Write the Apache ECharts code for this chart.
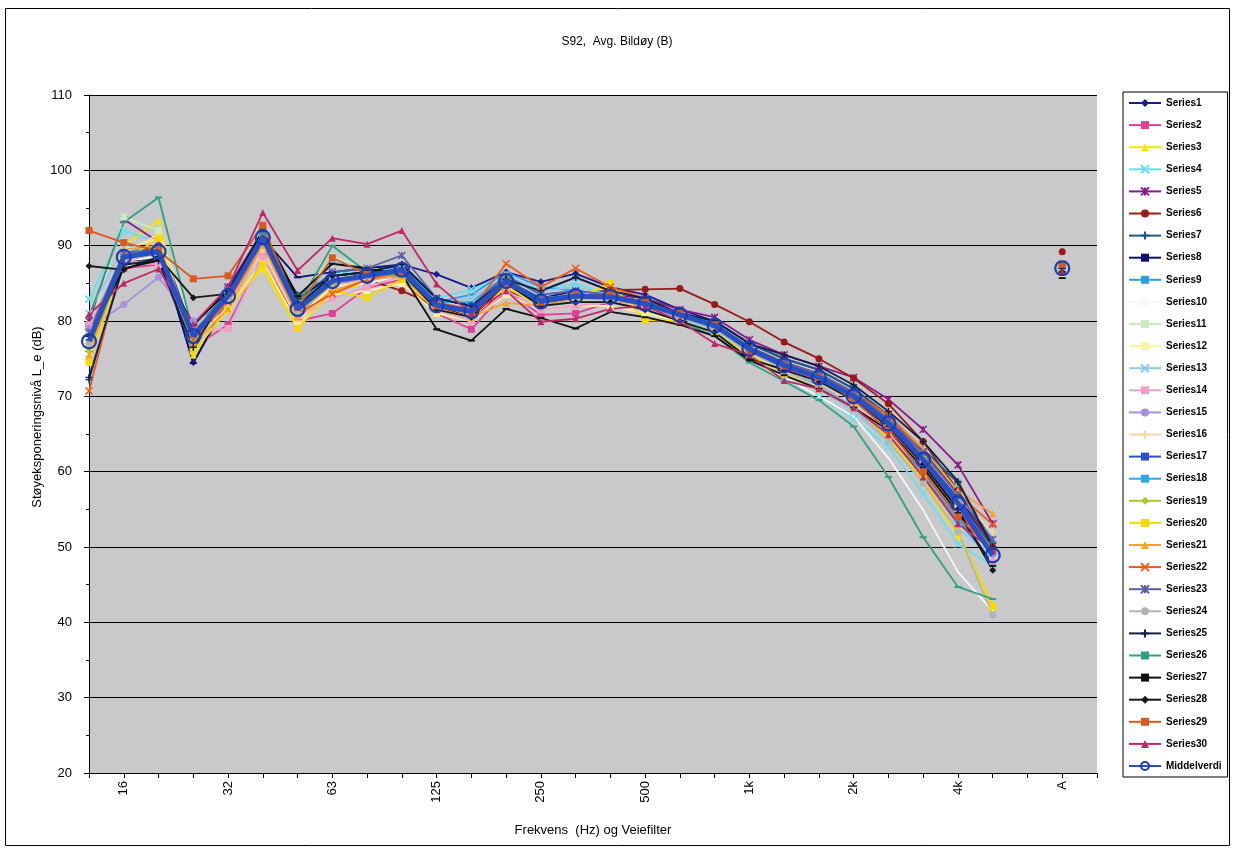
<!DOCTYPE html>
<html>
<head>
<meta charset="utf-8">
<script src="https://cdn.jsdelivr.net/npm/echarts@6/dist/echarts.min.js"></script>
<style>
html,body{margin:0;padding:0;background:#fff;}
#chart{width:1234px;height:850px;}
</style>
</head>
<body>
<div id="chart"></div>
<script>
const titleText = 'S92,  Avg. Bildøy (B)';
const yAxisName = 'Støyeksponeringsnivå L_e (dB)';
const xAxisName = 'Frekvens  (Hz) og Veiefilter';
const categories = ['12.5','16','20','25','32','40','50','63','80','100','125','160','200','250','315','400','500','630','800','1k','1.25k','1.6k','2k','2.5k','3.15k','4k','5k','6.3k','A',''];
const seriesNames = ['Series1','Series2','Series3','Series4','Series5','Series6','Series7','Series8','Series9','Series10','Series11','Series12','Series13','Series14','Series15','Series16','Series17','Series18','Series19','Series20','Series21','Series22','Series23','Series24','Series25','Series26','Series27','Series28','Series29','Series30'];

const s1  = [78.5,89.0,89.8,74.5,82.5,90.5,82.8,86.0,86.5,87.5,86.2,84.4,86.5,85.2,86.3,84.5,83.5,81.5,80.0,77.0,75.0,73.5,71.0,67.5,62.8,57.0,49.5,null,86.5,null];
const s2  = [79.0,87.0,87.5,76.5,79.5,88.5,80.0,81.0,84.4,85.5,81.0,78.9,84.0,80.8,81.0,82.5,82.0,80.5,79.0,76.0,73.8,72.0,69.5,65.8,61.0,55.0,48.5,null,86.8,null];
const s3  = [74.5,90.0,93.3,75.5,82.0,87.0,79.0,84.0,85.0,86.0,81.5,80.5,84.5,82.0,82.8,83.0,82.0,80.5,79.0,76.0,73.5,71.5,68.5,64.5,58.5,51.5,42.0,null,86.0,null];
const s4  = [82.9,92.0,90.5,78.5,84.0,91.5,83.0,86.5,86.5,86.5,83.0,84.2,86.0,84.0,85.0,83.5,82.5,80.5,78.5,75.5,72.5,70.0,67.0,63.3,57.1,50.4,47.5,null,87.0,null];
const s5  = [80.0,93.5,90.5,79.0,84.5,92.0,82.5,86.0,86.5,87.0,83.0,82.0,85.5,83.0,83.5,83.5,83.0,81.5,80.5,77.5,75.5,74.0,72.5,69.6,65.6,60.9,53.1,null,87.5,null];
const s6  = [79.5,88.0,88.0,77.5,83.0,90.0,81.0,85.0,85.5,84.0,82.0,80.5,84.0,82.5,83.5,84.1,84.2,84.3,82.2,79.9,77.2,75.0,72.4,69.0,64.0,57.5,50.0,null,89.2,null];
const s7  = [72.2,87.5,88.5,76.0,84.5,91.0,83.5,86.0,86.5,87.5,83.0,82.0,85.5,84.0,85.8,84.0,83.0,81.0,80.0,77.0,75.0,73.5,71.0,67.5,63.0,58.5,50.5,null,86.5,null];
const s8  = [76.0,88.0,90.0,74.4,83.0,91.0,85.8,86.5,87.0,87.5,83.0,82.0,85.0,83.0,84.0,83.5,82.5,81.0,79.5,76.5,74.5,73.0,70.5,67.0,62.5,56.5,49.0,null,87.0,null];
const s9  = [78.0,89.0,90.0,77.0,83.5,91.5,82.0,86.0,86.5,87.0,82.5,83.5,86.5,84.5,84.0,83.0,82.0,80.5,79.0,76.0,73.5,71.5,68.5,64.5,59.5,53.5,48.0,null,87.0,null];
const s10 = [77.0,88.0,88.5,77.5,82.5,90.0,80.5,84.5,85.0,86.0,81.5,80.5,84.5,82.0,82.5,82.5,81.5,80.0,78.5,75.5,72.5,70.0,67.3,61.8,54.9,46.7,41.5,null,86.0,null];
const s11 = [78.5,93.8,92.0,79.0,84.0,91.5,82.5,88.5,87.0,86.5,82.5,81.5,86.0,83.0,83.5,83.0,82.0,80.5,79.0,76.0,74.0,72.5,70.0,66.5,61.5,55.5,49.0,null,87.0,null];
const s12 = [76.5,89.5,91.0,76.0,81.5,88.0,79.5,83.5,84.0,85.0,81.0,80.0,83.5,81.5,82.0,82.0,81.0,80.0,78.5,75.5,73.5,72.0,69.5,65.5,60.5,54.5,48.5,null,86.0,null];
const s13 = [81.0,90.0,89.5,78.0,83.5,91.0,82.0,88.0,86.5,87.0,82.5,83.0,86.0,84.0,84.5,83.5,82.5,80.5,79.0,75.5,73.0,71.0,68.0,64.0,58.5,52.5,48.5,null,87.0,null];
const s14 = [79.5,88.0,87.5,78.5,79.0,88.5,80.5,83.0,84.5,86.0,81.5,80.0,84.0,81.5,82.0,82.5,82.0,80.5,79.0,76.0,73.5,72.0,69.5,65.5,60.5,54.5,48.0,null,86.5,null];
const s15 = [79.0,82.2,85.8,80.0,82.5,90.0,81.5,85.0,85.5,86.0,82.0,81.0,84.5,82.0,83.0,83.0,82.0,80.5,79.0,76.0,74.0,72.5,70.0,66.5,61.5,56.0,49.0,null,87.0,null];
const s16 = [77.0,89.0,91.5,77.0,82.0,89.5,80.0,84.5,85.5,86.5,82.0,81.0,85.0,82.5,83.5,83.5,82.5,81.0,79.5,76.5,74.5,73.0,70.5,67.0,62.5,56.5,52.0,null,87.0,null];
const s17 = [77.5,88.5,89.0,77.5,83.5,91.5,82.0,85.5,86.0,87.0,82.0,81.5,85.5,83.0,83.5,83.5,82.5,81.0,79.5,76.5,74.5,73.0,70.5,67.0,62.0,56.5,49.5,null,87.0,null];
const s18 = [78.0,89.0,90.0,78.5,84.0,92.0,82.5,86.0,86.5,87.5,82.5,82.5,86.0,83.5,84.0,83.5,82.5,81.0,79.5,76.0,73.5,71.5,68.5,64.5,60.0,54.0,48.0,null,87.0,null];
const s19 = [76.0,88.0,89.0,77.5,83.0,90.5,81.0,85.0,86.0,86.5,82.0,81.0,85.9,82.5,83.0,83.0,82.0,80.5,79.0,76.0,74.0,72.5,70.0,66.5,62.0,56.0,49.5,null,87.0,null];
const s20 = [74.7,88.0,91.0,76.0,81.5,87.5,79.0,84.0,83.1,85.5,81.5,80.5,84.5,82.0,83.0,85.0,80.1,80.0,78.5,75.5,73.0,71.0,68.5,64.5,59.0,52.0,42.2,null,86.5,null];
const s21 = [75.5,89.5,90.0,77.0,81.6,90.0,80.5,84.0,85.5,86.0,81.5,80.5,82.4,82.0,83.0,83.5,82.5,81.0,79.5,76.5,74.5,73.0,70.5,67.5,63.0,57.5,54.4,null,87.0,null];
const s22 = [70.7,88.5,89.5,77.5,82.5,90.5,81.0,83.6,85.5,86.5,82.5,81.5,87.6,84.5,87.0,84.5,83.0,81.0,79.5,76.5,74.5,73.0,70.5,67.5,62.5,57.0,53.0,null,87.5,null];
const s23 = [78.5,89.0,89.5,78.5,84.0,91.5,82.5,86.5,87.0,88.7,83.0,82.0,86.0,83.5,84.0,83.5,82.5,81.0,79.5,76.5,74.5,73.0,70.5,67.0,62.5,57.0,51.0,null,87.0,null];
const s24 = [77.0,88.0,89.0,79.0,83.0,90.5,81.0,85.5,86.0,86.5,82.0,81.0,85.0,82.5,83.0,83.0,82.0,80.5,79.0,76.0,73.5,71.5,68.5,64.0,58.5,52.0,41.0,null,86.5,null];
const s25 = [72.5,87.5,88.0,76.5,84.0,91.0,83.0,86.0,86.5,87.5,83.0,82.0,85.5,84.0,85.8,84.0,83.0,81.0,80.0,77.0,75.5,74.0,71.5,68.0,64.0,58.7,50.0,null,87.0,null];
const s26 = [80.5,93.1,96.4,78.5,83.5,91.5,82.0,90.0,86.5,86.0,82.0,81.0,85.0,82.0,82.5,82.5,81.5,80.0,78.0,74.5,72.0,69.5,66.0,59.3,51.3,44.7,43.1,null,86.5,null];
const s27 = [78.0,87.0,88.0,79.5,84.0,92.0,83.3,87.6,87.0,86.2,78.9,77.4,81.6,80.4,79.0,81.2,80.5,79.5,78.0,74.8,72.8,71.0,68.5,65.5,60.5,54.5,47.5,null,85.7,null];
const s28 = [87.3,86.8,88.5,83.1,83.6,90.5,82.0,86.0,86.5,86.5,81.5,80.5,85.0,82.0,82.5,82.5,81.5,80.0,78.5,75.0,73.5,72.0,69.5,66.0,61.0,55.0,46.9,null,86.5,null];
const s29 = [92.0,90.4,89.3,85.6,86.0,92.7,81.8,88.4,86.2,86.5,82.0,81.0,85.0,82.5,83.5,83.5,82.5,81.0,79.5,76.0,74.0,72.5,69.5,65.5,60.0,54.0,49.5,null,87.5,null];
const s30 = [80.9,85.0,86.9,79.6,84.5,94.4,86.7,91.0,90.2,92.0,84.9,81.0,84.0,79.9,80.3,81.6,82.0,80.0,77.0,75.5,72.1,71.0,68.5,64.9,59.3,53.1,49.6,null,86.5,null];
const middelverdi = [77.3,88.5,89.2,78.0,83.3,91.1,81.6,85.3,86.0,86.8,82.1,81.3,85.3,82.6,83.3,83.2,82.3,80.8,79.4,76.3,74.1,72.5,70.0,66.4,61.6,55.8,48.9,null,87.0,null];

const allData = [s1,s2,s3,s4,s5,s6,s7,s8,s9,s10,s11,s12,s13,s14,s15,s16,s17,s18,s19,s20,s21,s22,s23,s24,s25,s26,s27,s28,s29,s30];

const colors = ['#1a1a8c','#e0409a','#f5e600','#66e0f0','#8a1a8a','#9a1a1a','#1a5a8a','#101070','#2aa0e8','#f4f8fa',
  '#c8ecc0','#f8f4a0','#8cc8f0','#f0a0c8','#a890e0','#f8d8a8','#2a50c8','#30a8e0','#a8c830','#f8d800',
  '#f8a030','#f05a18','#5a60a8','#b4b4b4','#102048','#30a080','#101010','#181818','#d85a20','#c0286a'];

const X = 'path://M0,0L10,10M10,0L0,10';
const AST = 'path://M0,0L10,10M10,0L0,10M5,0L5,10';
const PLUS = 'path://M5,0L5,10M0,5L10,5';
const DASH = 'dash';
const symbols = ['diamond','rect','triangle',X,AST,'circle',PLUS,DASH,DASH,'emptyCircle',
  'rect','rect',X,'rect','circle',PLUS,DASH,DASH,'diamond','rect',
  'triangle',X,AST,'circle',PLUS,DASH,DASH,'diamond','rect','triangle'];

const series = allData.map((d, i) => {
  const sym = symbols[i];
  const isPath = sym.startsWith('path');
  const isDash = sym === 'dash';
  const isNone = sym === 'emptyCircle';
  return {
    name: seriesNames[i],
    type: 'line',
    data: d,
    symbol: isDash ? 'rect' : (isNone ? 'circle' : sym),
    symbolSize: isDash ? [7, 2] : (isNone ? 2 : 7),
    connectNulls: false,
    lineStyle: {width: 1.8, color: colors[i]},
    itemStyle: {color: colors[i], borderColor: colors[i], borderWidth: isPath ? 1.5 : 0},
    emphasis: {disabled: true},
    z: 2
  };
});
series.push({
  name: 'Middelverdi',
  type: 'line',
  data: middelverdi,
  symbol: 'circle',
  symbolSize: 14,
  connectNulls: false,
  lineStyle: {width: 5, color: '#2850c0'},
  itemStyle: {color: 'rgba(255,255,255,0)', borderColor: '#1c3cb0', borderWidth: 2.2},
  emphasis: {disabled: true},
  z: 3
});

const chart = echarts.init(document.getElementById('chart'), null, {renderer: 'canvas'});
chart.setOption({
  animation: false,
  backgroundColor: '#ffffff',
  textStyle: {fontFamily: 'Liberation Sans, Arial, sans-serif'},
  title: {
    text: titleText, left: 'center', top: 31,
    textStyle: {fontSize: 12, fontWeight: 'normal', color: '#000', fontFamily: 'Liberation Sans, Arial, sans-serif'}
  },
  graphic: [{
    type: 'rect', silent: true, z: -10,
    shape: {x: 5.5, y: 8.5, width: 1224, height: 837},
    style: {fill: 'none', stroke: '#000', lineWidth: 1}
  }],
  legend: {
    orient: 'vertical', left: 1123, top: 92,
    data: seriesNames.concat(['Middelverdi']),
    itemWidth: 32, itemHeight: 10, itemGap: 12.1,
    padding: [6, 6, 6, 5],
    borderColor: '#000', borderWidth: 1, backgroundColor: '#fff',
    textStyle: {fontSize: 10, color: '#000', fontWeight: 'bold'},
    selectedMode: false
  },
  grid: {
    left: 89, right: 137, top: 95, bottom: 77,
    show: true, backgroundColor: '#c9c9cb', borderWidth: 0
  },
  xAxis: {
    type: 'category', data: categories, boundaryGap: false,
    name: xAxisName, nameLocation: 'middle', nameGap: 51,
    nameMoveOverlap: false,
    nameTextStyle: {fontSize: 13, color: '#000'},
    axisLine: {lineStyle: {color: '#000', width: 1}},
    axisTick: {show: true, interval: 0, length: 5, lineStyle: {color: '#000'}},
    axisLabel: {
      rotate: 90, fontSize: 13, color: '#000', margin: 8,
      interval: (idx) => idx % 3 === 1
    },
    splitLine: {show: false}
  },
  yAxis: {
    type: 'value', min: 20, max: 110, interval: 10,
    name: yAxisName, nameLocation: 'middle', nameGap: 45,
    nameMoveOverlap: false,
    nameTextStyle: {fontSize: 13, color: '#000', padding: [0, 0, 0, 34]},
    axisLine: {show: true, lineStyle: {color: '#000', width: 1}},
    axisTick: {show: true, length: 5, lineStyle: {color: '#000'}},
    minorTick: {show: true, splitNumber: 2, length: 3, lineStyle: {color: '#000'}},
    axisLabel: {fontSize: 13, color: '#000', margin: 17},
    splitLine: {show: true, lineStyle: {color: '#000', width: 1.2}}
  },
  series: series
});
</script>
</body>
</html>
